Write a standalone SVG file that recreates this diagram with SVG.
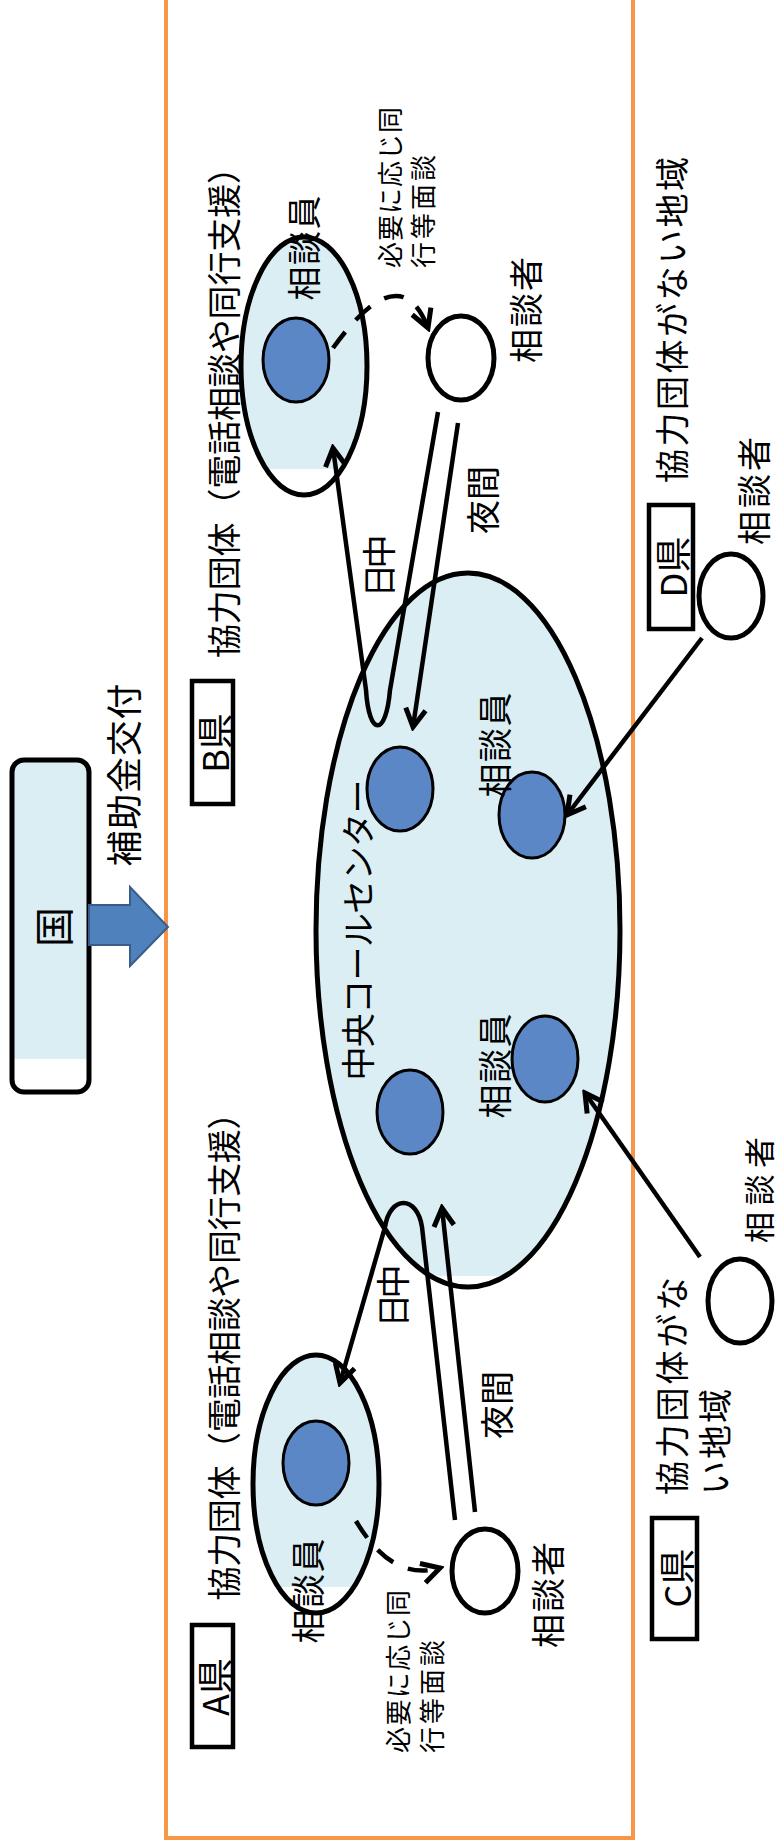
<svg xmlns="http://www.w3.org/2000/svg" width="781" height="1847" viewBox="0 0 781 1847">
<defs>
<style>
.t{font-family:"Noto Sans CJK JP","Noto Sans",sans-serif;fill:#000;text-anchor:middle;dominant-baseline:central;font-size:34px}
.st{text-anchor:start}
.sm{font-size:26px}
.ln{fill:none;stroke:#000;stroke-width:4.5}
.dash{stroke-dasharray:20 16}
.sub{fill:#5B87C6;stroke:#000;stroke-width:3}
.lab{fill:#fff;stroke:#000;stroke-width:4.5}
.grp{stroke:#000;stroke-width:5}
</style>
<linearGradient id="g90" x1="0" y1="0" x2="0" y2="1">
<stop offset="0" stop-color="#DAEEF3"/><stop offset="0.9" stop-color="#DAEEF3"/><stop offset="0.9" stop-color="#fff"/><stop offset="1" stop-color="#fff"/>
</linearGradient>
<linearGradient id="g98" x1="0" y1="0" x2="0" y2="1">
<stop offset="0" stop-color="#DAEEF3"/><stop offset="0.985" stop-color="#DAEEF3"/><stop offset="0.985" stop-color="#fff"/><stop offset="1" stop-color="#fff"/>
</linearGradient>
<marker id="ah" viewBox="0 0 26 26" refX="22" refY="13" markerWidth="26" markerHeight="26" markerUnits="userSpaceOnUse" orient="auto">
<path d="M4,3 L22,13 L4,23" fill="none" stroke="#000" stroke-width="5"/>
</marker>
</defs>

<rect id="frame" x="166" y="-10" width="467" height="1848" fill="none" stroke="#F79646" stroke-width="4"/>

<g id="node-kuni">
<rect x="12" y="760" width="77" height="332" rx="12" fill="url(#g90)" stroke="#000" stroke-width="5"/>
<text class="t" style="font-size:40px" transform="translate(52,927) rotate(-90)">国</text>
</g>

<g id="subsidy-arrow">
<polygon points="89,905 130,905 130,887 168,927 130,966 130,945 89,945" fill="#4F81BD" stroke="#385D8A" stroke-width="2"/>
<text class="t" style="font-size:36px" textLength="183" lengthAdjust="spacing" transform="translate(122,775) rotate(-90)">補助金交付</text>
</g>

<g id="node-center">
<ellipse cx="468" cy="930" rx="152" ry="357" fill="url(#g98)" class="grp"/>
<ellipse class="sub" cx="400" cy="789" rx="33" ry="42"/>
<ellipse class="sub" cx="532" cy="815" rx="33" ry="43"/>
<ellipse class="sub" cx="410" cy="1112" rx="33" ry="42"/>
<ellipse class="sub" cx="545" cy="1059" rx="33" ry="43"/>
<text class="t" textLength="301" lengthAdjust="spacing" transform="translate(356,930) rotate(-90)">中央コールセンター</text>
<text class="t" textLength="105" lengthAdjust="spacing" transform="translate(493,745) rotate(-90)">相談員</text>
<text class="t" textLength="105" lengthAdjust="spacing" transform="translate(493,1066) rotate(-90)">相談員</text>
</g>

<g id="node-b-pref">
<rect class="lab" x="192" y="681" width="41" height="123"/>
<text class="t" style="font-size:36px" transform="translate(213,743) rotate(-90)">B県</text>
<text class="t" textLength="508" lengthAdjust="spacing" transform="translate(222,404) rotate(-90)">協力団体（電話相談や同行支援）</text>
</g>

<g id="node-b-group">
<ellipse cx="304" cy="366" rx="63" ry="129" fill="url(#g90)" class="grp"/>
<ellipse class="sub" cx="296" cy="360" rx="33" ry="42"/>
<text class="t" textLength="105" lengthAdjust="spacing" transform="translate(302,248) rotate(-90)">相談員</text>
</g>

<g id="node-b-client">
<ellipse cx="461" cy="358" rx="33" ry="42" fill="#fff" class="grp"/>
<text class="t" textLength="106" lengthAdjust="spacing" transform="translate(524,310) rotate(-90)">相談者</text>
</g>

<g id="node-a-pref">
<rect class="lab" x="192" y="1625" width="41" height="122"/>
<text class="t" style="font-size:36px" transform="translate(213,1687) rotate(-90)">A県</text>
<text class="t" textLength="505" lengthAdjust="spacing" transform="translate(222,1348) rotate(-90)">協力団体（電話相談や同行支援）</text>
</g>

<g id="node-a-group">
<ellipse cx="316" cy="1484" rx="63" ry="129" fill="url(#g90)" class="grp"/>
<ellipse class="sub" cx="316" cy="1463" rx="33" ry="42"/>
<text class="t" textLength="105" lengthAdjust="spacing" transform="translate(306,1591) rotate(-90)">相談員</text>
</g>

<g id="node-a-client">
<ellipse cx="485" cy="1571" rx="33" ry="42" fill="#fff" class="grp"/>
<text class="t" textLength="106" lengthAdjust="spacing" transform="translate(546,1595) rotate(-90)">相談者</text>
</g>

<g id="node-d-pref">
<rect class="lab" x="649" y="505" width="44" height="124"/>
<text class="t" style="font-size:36px" transform="translate(671,567) rotate(-90)">D県</text>
<text class="t" textLength="326" lengthAdjust="spacing" transform="translate(670,320) rotate(-90)">協力団体がない地域</text>
</g>

<g id="node-d-client">
<ellipse cx="731" cy="596" rx="32" ry="42" fill="#fff" class="grp"/>
<text class="t" textLength="108" lengthAdjust="spacing" transform="translate(752,491) rotate(-90)">相談者</text>
</g>

<g id="node-c-pref">
<rect class="lab" x="652" y="1518" width="45" height="121"/>
<text class="t" style="font-size:36px" transform="translate(675,1578) rotate(-90)">C県</text>
<text class="t st" textLength="218" lengthAdjust="spacing" transform="translate(670,1495) rotate(-90)">協力団体がな</text>
<text class="t st" textLength="106" lengthAdjust="spacing" transform="translate(713,1495) rotate(-90)">い地域</text>
</g>

<g id="node-c-client">
<ellipse cx="740" cy="1301" rx="32" ry="42" fill="#fff" class="grp"/>
<text class="t" style="font-size:31px" textLength="106" lengthAdjust="spacing" transform="translate(757,1190) rotate(-90)">相談者</text>
</g>

<g id="connectors">
<path class="ln" d="M438,412 L390,690 C386,737 369,737 366,690 L333,448" marker-end="url(#ah)"/>
<path class="ln" d="M458,423 L413,727" marker-end="url(#ah)"/>
<path class="ln dash" d="M333,348 Q400,255 428,328" marker-end="url(#ah)"/>
<path class="ln" d="M455,1520 L422,1227 C417,1195 390,1195 385,1227 L340,1383" marker-end="url(#ah)"/>
<path class="ln" d="M475,1512 L442,1208" marker-end="url(#ah)"/>
<path class="ln dash" d="M356,1521 Q392,1582 440,1568" marker-end="url(#ah)"/>
<path class="ln" d="M702,638 L567,815" marker-end="url(#ah)"/>
<path class="ln" d="M700,1257 L585,1093" marker-end="url(#ah)"/>
<text class="t" textLength="63" lengthAdjust="spacing" transform="translate(377,566) rotate(-90)">日中</text>
<text class="t" textLength="68" lengthAdjust="spacing" transform="translate(481,500) rotate(-90)">夜間</text>
<text class="t" textLength="63" lengthAdjust="spacing" transform="translate(391,1296) rotate(-90)">日中</text>
<text class="t" textLength="68" lengthAdjust="spacing" transform="translate(495,1405) rotate(-90)">夜間</text>
<text class="t st sm" textLength="161" lengthAdjust="spacing" transform="translate(388,268) rotate(-90)">必要に応じ同</text>
<text class="t st sm" textLength="113" lengthAdjust="spacing" transform="translate(421,268) rotate(-90)">行等面談</text>
<text class="t st sm" textLength="163" lengthAdjust="spacing" transform="translate(396,1753) rotate(-90)">必要に応じ同</text>
<text class="t st sm" textLength="113" lengthAdjust="spacing" transform="translate(430,1753) rotate(-90)">行等面談</text>
</g>
</svg>
